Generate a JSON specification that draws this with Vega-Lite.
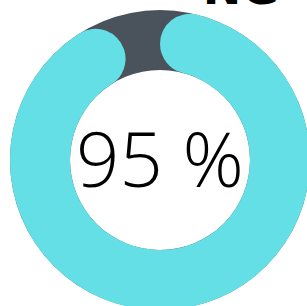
{
  "$schema": "https://vega.github.io/schema/vega-lite/v6.json",
  "width": 320,
  "height": 320,
  "padding": 0,
  "autosize": {"type": "none"},
  "background": "white",
  "config": {"view": {"stroke": null}},
  "title": {
    "text": "NG",
    "anchor": "end",
    "orient": "top",
    "offset": 0,
    "baseline": "bottom",
    "dx": -41,
    "dy": 60,
    "fontSize": 46,
    "fontWeight": 900,
    "font": "DejaVu Sans",
    "color": "black"
  },
  "layer": [
    {
      "data": {"values": [{"part": "track", "value": 100}]},
      "mark": {"type": "arc", "innerRadius": 90, "outerRadius": 150, "color": "#4a525b"},
      "encoding": {
        "theta": {"field": "value", "type": "quantitative"}
      }
    },
    {
      "data": {"values": [{"part": "done", "value": 95}, {"part": "rest", "value": 5}]},
      "mark": {"type": "arc", "innerRadius": 90, "outerRadius": 150, "cornerRadius": 30},
      "encoding": {
        "theta": {"field": "value", "type": "quantitative", "stack": true},
        "order": {"field": "part", "sort": "ascending"},
        "color": {"field": "part", "type": "nominal", "scale": {"domain": ["done", "rest"], "range": ["#63dfe5", "transparent"]}, "legend": null}
      }
    },
    {
      "data": {"values": [{"label": "95 %"}]},
      "mark": {"type": "text", "font": "Open Sans", "fontWeight": 300, "fontSize": 76, "color": "black", "align": "center", "baseline": "middle", "dy": 4},
      "encoding": {"text": {"field": "label", "type": "nominal"}}
    }
  ]
}
